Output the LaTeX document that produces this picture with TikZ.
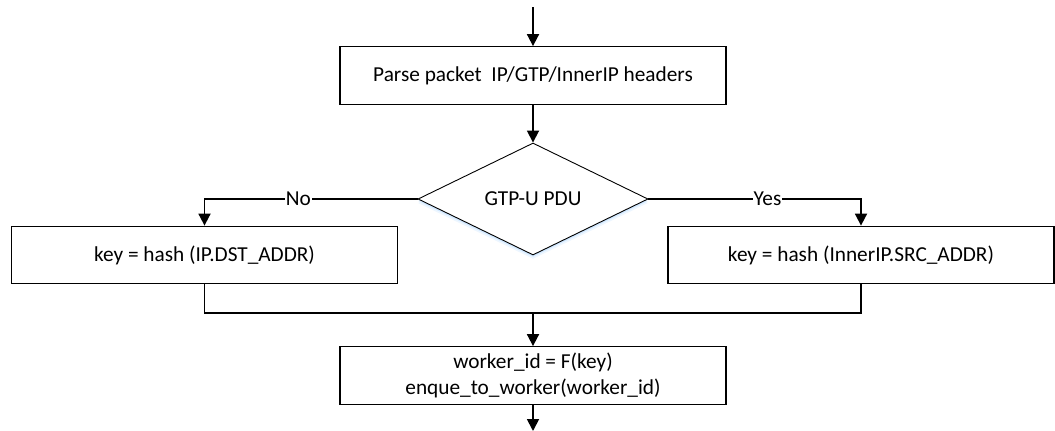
\documentclass[tikz,border=0pt]{standalone}
\usepackage{fontspec}
\setmainfont{Carlito}
\usetikzlibrary{arrows.meta,shapes.geometric,shadows}
\begin{document}
\begin{tikzpicture}[x=1pt,y=-1pt,
  every node/.style={font=\fontsize{21.3}{25.5}\selectfont, text=black},
  proc/.style={draw=black, line width=1.3pt, fill=white, minimum width=386pt,
    minimum height=57.5pt, inner sep=0pt, align=center},
  decide/.style={diamond, draw=black, line width=0.9pt, fill=white,
    minimum width=230pt, minimum height=112pt, inner sep=0pt,
    general shadow={shadow yshift=-4pt, fill=blue!50!cyan, opacity=0.07},
    general shadow={shadow yshift=-2pt, fill=blue!50!cyan, opacity=0.12}},
  flow/.style={line width=1.8pt, -{Triangle[width=12pt,length=12pt]}},
  link/.style={line width=1.8pt},
  lbl/.style={fill=white, inner sep=1pt}]
\useasboundingbox (0,0) rectangle (1055,431);

% process steps
\node[proc] (parse) at (533,75.5) {Parse packet\ \ IP/GTP/InnerIP headers};
\node[decide] (gtp) at (533,199) {GTP-U PDU};
\node[proc] (dst) at (204.5,255) {key = hash (IP.DST\_ADDR)};
\node[proc] (src) at (861,255) {key = hash (InnerIP.SRC\_ADDR)};
\node[proc] (work) at (533,375.5) {worker\_id = F(key)\\enque\_to\_worker(worker\_id)};

% free ends and the junction of both branches
\coordinate (entry) at (533,7);
\coordinate (exit) at (533,431);
\coordinate (join) at (533,312.7);

% connectors
\draw[flow] (entry) -- (parse);
\draw[flow] (parse) -- (gtp);
\draw[flow] (gtp.west) -| node[lbl, pos=0.28] {No} (dst.north);
\draw[flow] (gtp.east) -| node[lbl, pos=0.28] {Yes} (src.north);
\draw[link] (dst.south) -- (dst.south |- join) -- (src.south |- join) -- (src.south);
\draw[flow] (join) -- (work);
\draw[flow] (work) -- (exit);
\end{tikzpicture}
\end{document}
